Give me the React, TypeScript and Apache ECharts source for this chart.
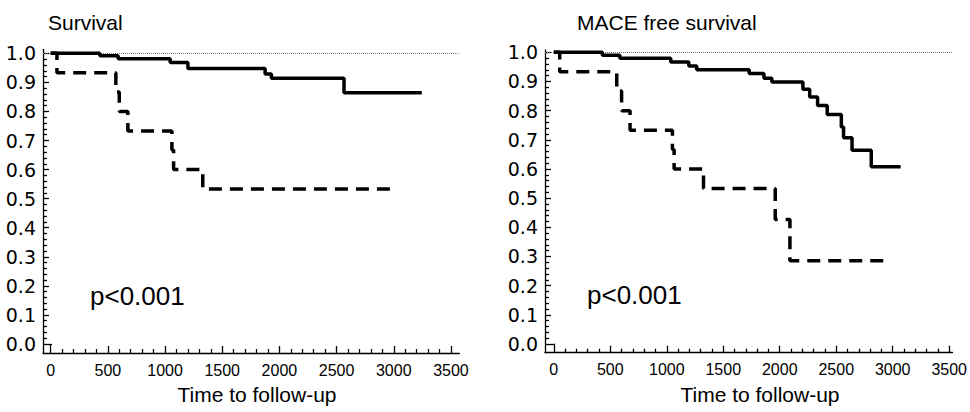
import React, { useEffect, useRef } from "react";
import * as echarts from "echarts";

// ---- Data ----
const xTickValues = [0, 500, 1000, 1500, 2000, 2500, 3000, 3500];
const yTickValues = [0, 0.1, 0.2, 0.3, 0.4, 0.5, 0.6, 0.7, 0.8, 0.9, 1.0];

// Left panel: Survival
const survivalSolidT = [0, 430, 590, 1045, 1200, 1875, 1930, 2565, 3245];
const survivalSolidS = [1, 0.992, 0.981, 0.968, 0.948, 0.929, 0.914, 0.864, 0.864];
const survivalDashedT = [0, 55, 570, 600, 675, 1060, 1075, 1330, 3010];
const survivalDashedS = [1, 0.933, 0.867, 0.8, 0.733, 0.667, 0.6, 0.533, 0.533];

// Right panel: MACE free survival
const maceSolidT = [0, 430, 585, 1035, 1195, 1265, 1730, 1860, 1930, 2205, 2265, 2335, 2420, 2545, 2565, 2640, 2810, 3070];
const maceSolidS = [1, 0.99, 0.98, 0.967, 0.953, 0.94, 0.927, 0.911, 0.898, 0.873, 0.847, 0.818, 0.787, 0.744, 0.707, 0.664, 0.608, 0.608];
const maceDashedT = [0, 52, 557, 600, 675, 1050, 1065, 1325, 1960, 2090, 2930];
const maceDashedS = [1, 0.933, 0.867, 0.8, 0.733, 0.667, 0.6, 0.533, 0.427, 0.285, 0.285];

const titles = ["Survival", "MACE free survival"];
const xAxisName = "Time to follow-up";
const pText = "p<0.001";

const xMinorValues = Array.from({ length: 35 }, (_, i) => (i + 1) * 100).filter((v) => v % 500 !== 0);
const yMinorValues = Array.from({ length: 49 }, (_, i) => i + 1)
  .filter((i) => i % 5 !== 0)
  .map((i) => i * 0.02);

const zip = (t: number[], s: number[]) => t.map((v, i) => [v, s[i]]);

const FONT = "'Liberation Sans', Arial, sans-serif";
const tickStyle = { color: "#000", width: 1.3 };

function makeX(gridIndex: number, min: number, max: number) {
  const base: any = {
    type: "value",
    gridIndex,
    min,
    max,
    position: "bottom",
    splitLine: { show: false },
    axisLine: { show: false, onZero: false },
    axisLabel: { show: false },
    axisTick: { show: false },
  };
  return [
    {
      ...base,
      axisLine: { show: true, onZero: false, lineStyle: { color: "#000", width: 1.3 } },
      axisTick: { show: true, inside: true, length: 7, lineStyle: tickStyle, customValues: xTickValues.filter((v) => v !== 0) },
      axisLabel: {
        show: true,
        customValues: xTickValues,
        margin: 9,
        color: "#000",
        fontSize: 16,
        fontFamily: FONT,
        formatter: (v: number) => String(Math.round(v)),
      },
    },
    { ...base, axisTick: { show: true, inside: true, length: 9, lineStyle: tickStyle, customValues: [0] } },
    { ...base, axisTick: { show: true, inside: true, length: 4, lineStyle: tickStyle, customValues: xMinorValues } },
  ];
}

function makeY(gridIndex: number, min: number, max: number) {
  const base: any = {
    type: "value",
    gridIndex,
    min,
    max,
    position: "left",
    splitLine: { show: false },
    axisLine: { show: false, onZero: false },
    axisLabel: { show: false },
    axisTick: { show: false },
  };
  return [
    {
      ...base,
      axisLine: { show: true, onZero: false, lineStyle: { color: "#000", width: 1.3 } },
      axisTick: { show: true, inside: true, length: 6, lineStyle: tickStyle, customValues: yTickValues.filter((v) => v !== 0) },
      axisLabel: {
        show: true,
        customValues: yTickValues,
        margin: 7,
        color: "#000",
        fontSize: 19,
        fontFamily: "'DejaVu Sans', sans-serif",
        formatter: (v: number) => v.toFixed(1),
      },
    },
    { ...base, axisTick: { show: true, inside: true, length: 9, lineStyle: tickStyle, customValues: [0] } },
    { ...base, axisTick: { show: true, inside: true, length: 4, lineStyle: tickStyle, customValues: yMinorValues } },
  ];
}

const solidStyle = { color: "#000", width: 3.5, type: "solid" as const };
const dashedStyle = { color: "#000", width: 3.5, type: [13, 8] as any };

function kmSeries(data: number[][], axisIndex: number, style: any, withRef: boolean) {
  const s: any = {
    type: "line",
    step: "end",
    data,
    xAxisIndex: axisIndex,
    yAxisIndex: axisIndex,
    symbol: "none",
    lineStyle: style,
    itemStyle: { color: "#000" },
    silent: true,
    z: 3,
  };
  if (withRef) {
    s.markLine = {
      silent: true,
      symbol: ["none", "none"],
      label: { show: false },
      lineStyle: { color: "#777", width: 1, type: [1, 1] },
      z: 1,
      data: [{ yAxis: 1 }],
    };
  }
  return s;
}

function text(str: string, x: number, y: number, size: number, align: string) {
  return {
    type: "text",
    x,
    y,
    silent: true,
    style: {
      text: str,
      fill: "#000",
      fontSize: size,
      fontFamily: FONT,
      align,
      verticalAlign: "middle",
    },
  };
}

export default function App() {
  const ref = useRef<HTMLDivElement>(null);
  useEffect(() => {
    document.body.style.margin = "0";
    if (!ref.current) return;
    const chart = echarts.init(ref.current, undefined, { renderer: "svg" });
    chart.setOption({
      animation: false,
      backgroundColor: "#fff",
      grid: [
        { left: 43, top: 49.3, width: 416.3, height: 303.7, containLabel: false },
        { left: 545, top: 50, width: 416, height: 302.7, containLabel: false },
      ],
      xAxis: [...makeX(0, -67, 3573), ...makeX(1, -78, 3529)],
      yAxis: [...makeY(0, -0.031, 1.0138), ...makeY(1, -0.0298, 1.0079)],
      series: [
        kmSeries(zip(survivalSolidT, survivalSolidS), 0, solidStyle, true),
        kmSeries(zip(survivalDashedT, survivalDashedS), 0, dashedStyle, false),
        kmSeries(zip(maceSolidT, maceSolidS), 3, solidStyle, true),
        kmSeries(zip(maceDashedT, maceDashedS), 3, dashedStyle, false),
      ],
      graphic: [
        text(titles[0], 48, 22.5, 21, "left"),
        text(titles[1], 577, 22, 21, "left"),
        text(pText, 90, 296, 26, "left"),
        text(pText, 587, 295, 26, "left"),
        text(xAxisName, 257, 394, 21, "center"),
        text(xAxisName, 760, 394, 21, "center"),
      ],
    });
    return () => chart.dispose();
  }, []);
  return <div ref={ref} style={{ width: 970, height: 412 }} />;
}
